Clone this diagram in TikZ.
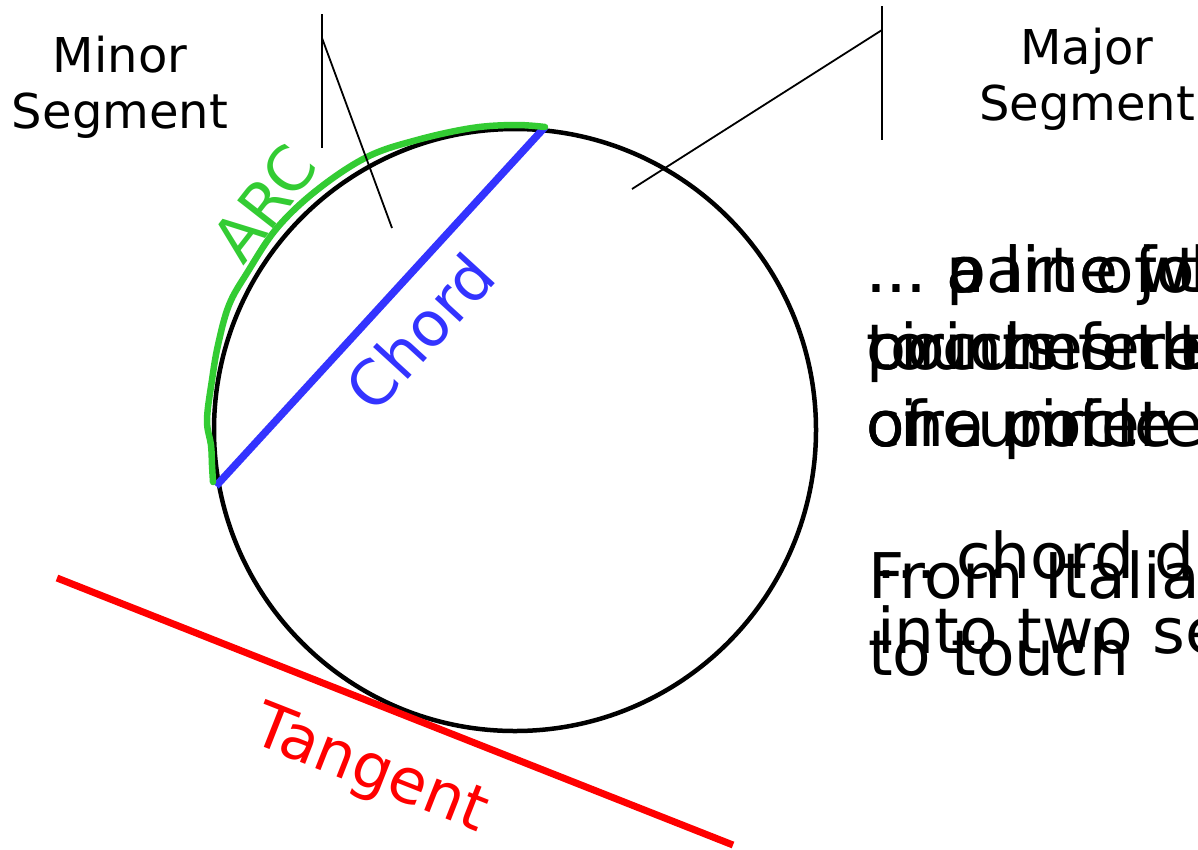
\documentclass[tikz,border=0pt]{standalone}
\usepackage{fontspec}
\setmainfont{DejaVu Sans}
\definecolor{chordblue}{RGB}{51,51,255}
\definecolor{arcgreen}{RGB}{51,204,51}
\newcommand{\lead}{...}

\begin{document}
\begin{tikzpicture}[x=1pt, y=-1pt,
  seglabel/.style={font=\fontsize{48}{56}\selectfont, anchor=base, inner sep=0pt},
  deftext/.style={font=\fontsize{63}{77}\selectfont, anchor=base west, inner sep=0pt},
  partlabel/.style={font=\fontsize{62}{77}\selectfont, inner sep=0pt},
  pointer/.style={line width=1.8pt}]

\useasboundingbox (0,0) rectangle (1198,849);
\clip (0,0) rectangle (1198,849);

% ---- circle, chord, tangent ------------------------------------------------
\coordinate (centre) at (515,430);
\draw[line width=4.5pt] (centre) circle[radius=301];

\coordinate (chordA) at (216,486);
\coordinate (chordB) at (545,127);
\draw[chordblue, line width=7.5pt] (chordA) -- (chordB);

\coordinate (tanA) at (57,578);
\coordinate (tanB) at (733,845);
\draw[red, line width=7pt] (tanA) -- (tanB);

% ---- hand drawn arc --------------------------------------------------------
\draw[arcgreen, line width=6.5pt, line cap=round] plot[smooth, tension=0.6] coordinates {
  (chordB) (515,125) (472,128) (417,140) (367,157) (317,190) (277,228)
  (247,273) (229,305) (218,345) (212,380) (207,420) (211,445) (212,465)
  (213,482) };

% ---- part labels -----------------------------------------------------------
\node[partlabel, arcgreen, rotate=52] (arclabel) at (264,203) {ARC};
\node[partlabel, chordblue, rotate=47.5] (chordlabel) at (420,332) {Chord};
\node[partlabel, red, rotate=-21.5] (tanlabel) at (370,772) {Tangent};

% ---- segment pointers ------------------------------------------------------
\node[seglabel] (minor1) at (120,72) {Minor};
\node[seglabel] (minor2) at (120,128) {Segment};
\node[seglabel] (major1) at (1087,64) {Major};
\node[seglabel] (major2) at (1087,120) {Segment};

\coordinate (minorTop) at (322,14);
\coordinate (minorBot) at (322,148);
\coordinate (minorKnee) at (322,38);
\coordinate (minorTip) at (392,228);
\draw[pointer] (minorTop) -- (minorBot);
\draw[pointer] (minorKnee) -- (minorTip);

\coordinate (majorTop) at (882,6);
\coordinate (majorBot) at (882,140);
\coordinate (majorKnee) at (882,30);
\coordinate (majorTip) at (632,189);
\draw[pointer] (majorTop) -- (majorBot);
\draw[pointer] (majorKnee) -- (majorTip);

% ---- definitions (stacked on top of one another) ---------------------------
\foreach \txt [count=\i] in {{\lead\ part of the}, {circumference}, {of a circle}}
  \node[deftext] (arcdef\i) at (866,{292+77*(\i-1)}) {\txt};
\foreach \txt [count=\i] in {{\lead\ a line joining two}, {points on the}, {circumference}}
  \node[deftext] (chorddef\i) at (866,{292+77*(\i-1)}) {\txt};
\foreach \txt [count=\i] in {{\lead\ a line which}, {touches the circle}, {one point}}
  \node[deftext] (tandef\i) at (866,{292+77*(\i-1)}) {\txt};

\node[deftext] (segdef1) at (876,578) {\lead\ chord divides the circle};
\node[deftext] (segdef2) at (877,653) {into two segments};
\node[deftext] (origin1) at (868,598) {From Italian tangere};
\node[deftext] (origin2) at (868,675) {to touch};

\end{tikzpicture}
\end{document}
